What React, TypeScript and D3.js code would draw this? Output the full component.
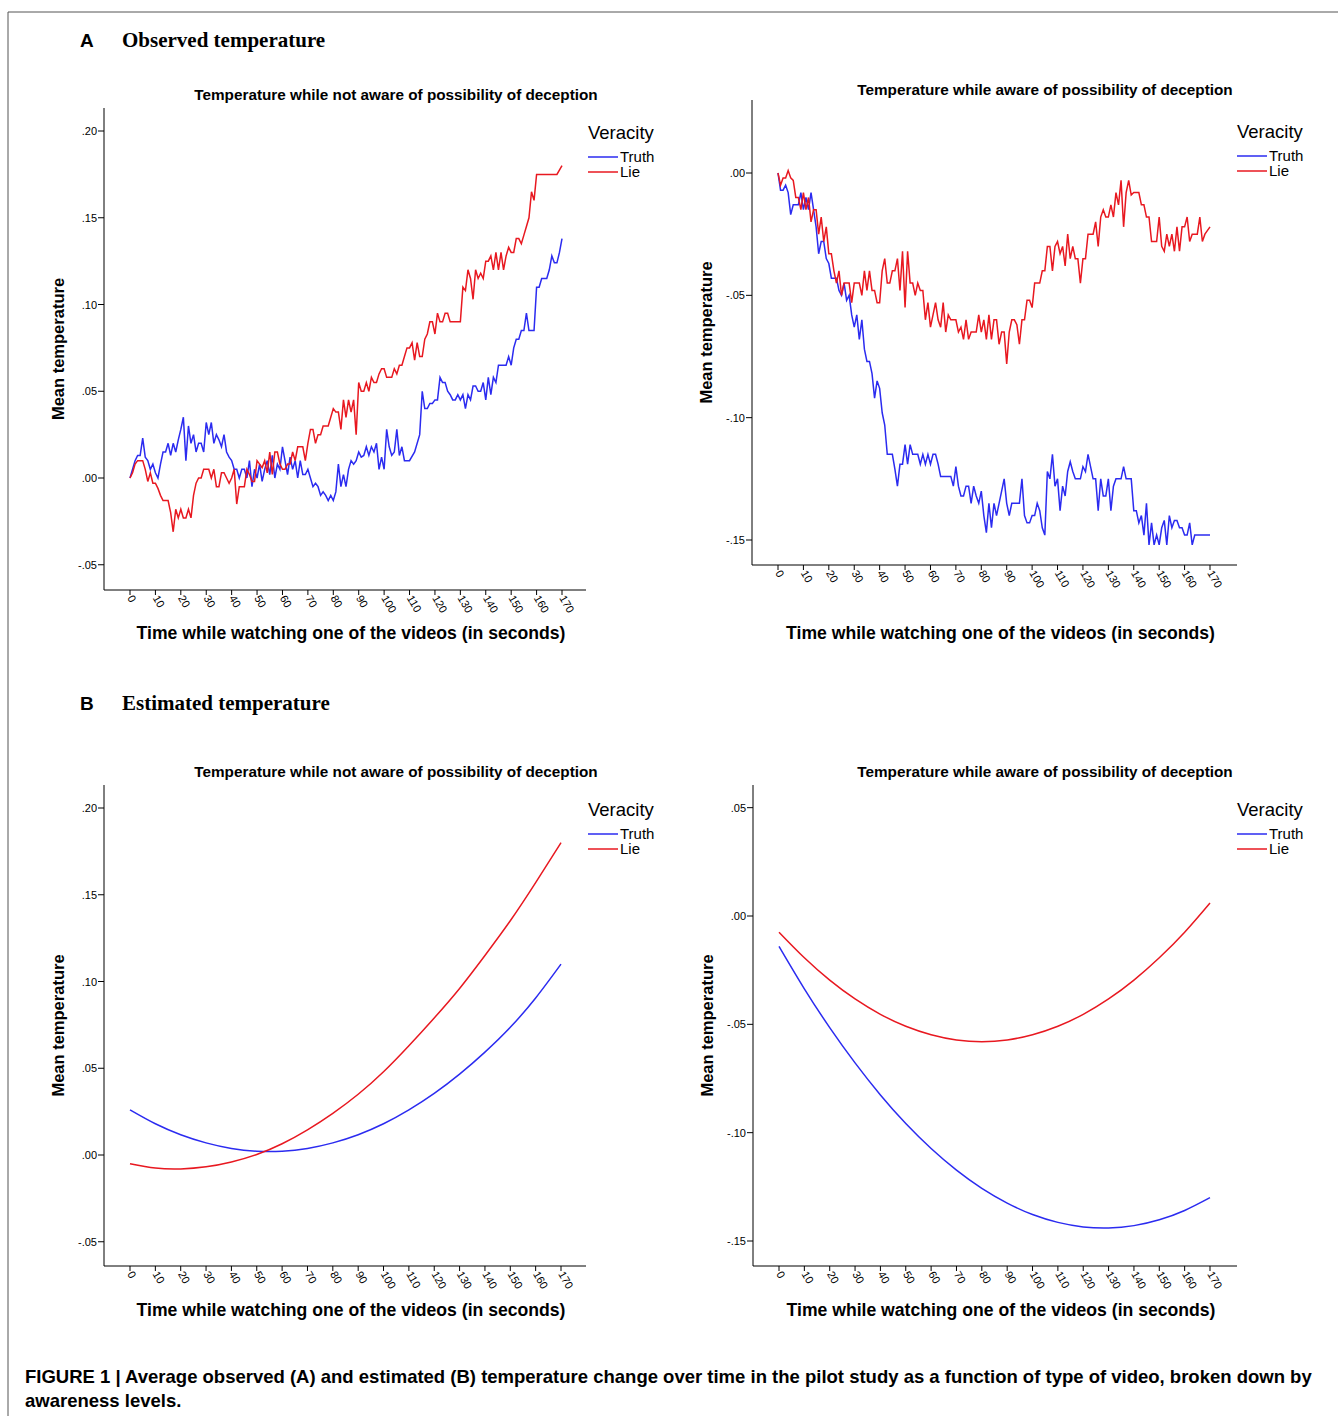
import React from "react";
import * as d3 from "d3";

const xTicks = [0,10,20,30,40,50,60,70,80,90,100,110,120,130,140,150,160,170];
const yTicksAL = [-0.05,0,0.05,0.10,0.15,0.20];
const yTicksAR = [-0.15,-0.10,-0.05,0];
const yTicksBL = [-0.05,0,0.05,0.10,0.15,0.20];
const yTicksBR = [-0.15,-0.10,-0.05,0,0.05];

const truthObsNA: [number,number][] = [[0,0],[2,0.01],[3,0.013],[4,0.013],[5,0.023],[6,0.012],[7,0.01],[8,0.005],[9,0.008],[10,0.003],[11,0],[12,0.008],[13,0.015],[14,0.015],[15,0.02],[16,0.013],[17,0.02],[18,0.015],[19,0.022],[20,0.028],[21,0.035],[22,0.01],[23,0.03],[24,0.02],[25,0.025],[26,0.015],[27,0.02],[28,0.02],[29,0.015],[30,0.032],[31,0.025],[32,0.032],[33,0.02],[34,0.025],[35,0.022],[36,0.018],[37,0.025],[38,0.015],[39,0.012],[40,0.01],[41,0.005],[42,0.005],[43,0],[44,0.005],[45,0.005],[46,0],[47,0.01],[48,-0.005],[49,0.005],[50,0],[51,0.008],[52,-0.002],[53,0.005],[54,0.01],[55,0.002],[56,0.013],[57,0],[58,0.008],[59,0.005],[60,0.018],[61,0.01],[62,0.002],[63,0.012],[64,0.005],[65,0.01],[66,0],[67,0.01],[68,0.002],[69,0.002],[70,0.005],[71,0],[72,-0.005],[73,-0.003],[74,-0.005],[75,-0.01],[76,-0.008],[77,-0.01],[78,-0.013],[79,-0.01],[80,-0.013],[81,-0.008],[82,0.008],[83,-0.005],[84,0.002],[85,-0.005],[86,0.005],[87,0.01],[88,0.008],[89,0.01],[90,0.015],[91,0.012],[92,0.013],[93,0.018],[94,0.013],[95,0.018],[96,0.015],[97,0.02],[98,0.005],[99,0.012],[100,0.005],[101,0.028],[102,0.018],[103,0.013],[104,0.015],[105,0.028],[106,0.013],[107,0.018],[108,0.01],[109,0.01],[110,0.01],[112,0.015],[114,0.025],[115,0.05],[116,0.04],[117,0.04],[118,0.043],[119,0.043],[120,0.045],[121,0.045],[122,0.058],[123,0.055],[124,0.055],[125,0.05],[126,0.048],[127,0.045],[128,0.045],[129,0.048],[130,0.045],[131,0.048],[132,0.04],[133,0.048],[134,0.045],[135,0.053],[136,0.053],[137,0.05],[138,0.05],[139,0.055],[140,0.045],[141,0.058],[142,0.048],[143,0.058],[144,0.055],[145,0.065],[146,0.065],[147,0.065],[148,0.065],[149,0.07],[150,0.065],[151,0.075],[152,0.08],[153,0.08],[154,0.085],[155,0.085],[156,0.095],[157,0.085],[158,0.085],[159,0.085],[160,0.11],[161,0.11],[162,0.115],[163,0.115],[164,0.115],[165,0.12],[166,0.128],[167,0.124],[168,0.124],[169,0.13],[170,0.138]];

const lieObsNA: [number,number][] = [[0,0],[1,0.003],[2,0.008],[3,0.01],[4,0.01],[5,0.01],[6,0.005],[7,-0.002],[8,0.003],[9,-0.003],[10,-0.003],[11,-0.006],[12,-0.01],[13,-0.013],[14,-0.013],[15,-0.013],[16,-0.02],[17,-0.031],[18,-0.018],[19,-0.023],[20,-0.018],[21,-0.023],[22,-0.023],[23,-0.018],[24,-0.023],[25,-0.01],[26,-0.003],[27,0],[28,0],[29,0.005],[30,0.005],[31,0.005],[32,0],[33,0.005],[34,-0.005],[35,-0.005],[36,0.003],[37,0.003],[38,0],[39,-0.003],[40,0],[41,0.005],[42,-0.015],[43,-0.005],[44,-0.005],[45,-0.005],[46,0.005],[47,0.002],[48,-0.002],[49,-0.002],[50,0.01],[51,0.008],[52,0.006],[53,0.01],[54,0.003],[55,0.015],[56,0.002],[57,0.015],[58,0.015],[59,0.008],[60,0.005],[61,0.005],[62,0.008],[63,0.008],[64,0.015],[65,0.01],[66,0.018],[67,0.018],[68,0.018],[69,0.01],[70,0.02],[71,0.028],[72,0.028],[73,0.02],[74,0.025],[75,0.025],[76,0.03],[77,0.03],[78,0.03],[79,0.035],[80,0.04],[81,0.038],[82,0.038],[83,0.028],[84,0.045],[85,0.035],[86,0.045],[87,0.038],[88,0.045],[89,0.025],[90,0.055],[91,0.05],[92,0.05],[93,0.055],[94,0.05],[95,0.058],[96,0.055],[97,0.055],[98,0.06],[99,0.063],[100,0.063],[101,0.058],[102,0.058],[103,0.058],[104,0.063],[105,0.06],[106,0.065],[107,0.065],[108,0.07],[109,0.075],[110,0.075],[111,0.078],[112,0.068],[113,0.078],[114,0.07],[115,0.07],[116,0.08],[117,0.083],[118,0.09],[119,0.09],[120,0.083],[121,0.095],[122,0.09],[123,0.09],[124,0.095],[125,0.095],[126,0.09],[127,0.09],[128,0.09],[129,0.09],[130,0.09],[131,0.11],[132,0.108],[133,0.12],[134,0.115],[135,0.103],[136,0.12],[137,0.115],[138,0.118],[139,0.115],[140,0.125],[141,0.125],[142,0.128],[143,0.12],[144,0.13],[145,0.12],[146,0.13],[147,0.12],[148,0.128],[149,0.133],[150,0.13],[151,0.13],[152,0.138],[153,0.138],[154,0.135],[155,0.14],[156,0.145],[157,0.15],[158,0.165],[159,0.16],[160,0.175],[161,0.175],[163,0.175],[166,0.175],[168,0.175],[170,0.18]];

const truthObsA: [number,number][] = [[0,0],[1,-0.007],[2,-0.007],[3,-0.005],[4,-0.008],[5,-0.017],[6,-0.013],[7,-0.013],[8,-0.013],[9,-0.008],[10,-0.015],[11,-0.01],[12,-0.015],[13,-0.008],[14,-0.015],[15,-0.022],[16,-0.033],[17,-0.028],[18,-0.028],[19,-0.035],[20,-0.037],[21,-0.043],[22,-0.043],[23,-0.043],[24,-0.048],[25,-0.05],[26,-0.045],[27,-0.052],[28,-0.05],[29,-0.058],[30,-0.063],[31,-0.058],[32,-0.068],[33,-0.06],[34,-0.072],[35,-0.077],[36,-0.077],[37,-0.082],[38,-0.092],[39,-0.085],[40,-0.088],[41,-0.098],[42,-0.103],[43,-0.115],[44,-0.115],[45,-0.115],[46,-0.121],[47,-0.128],[48,-0.119],[49,-0.119],[50,-0.111],[51,-0.119],[52,-0.111],[53,-0.115],[54,-0.115],[55,-0.115],[56,-0.119],[57,-0.115],[58,-0.119],[59,-0.115],[60,-0.119],[61,-0.115],[62,-0.115],[63,-0.119],[64,-0.124],[65,-0.124],[66,-0.124],[67,-0.124],[68,-0.124],[69,-0.128],[70,-0.12],[71,-0.128],[72,-0.132],[73,-0.132],[74,-0.128],[75,-0.128],[76,-0.135],[77,-0.128],[78,-0.132],[79,-0.135],[80,-0.13],[81,-0.14],[82,-0.147],[83,-0.135],[84,-0.145],[85,-0.135],[86,-0.14],[87,-0.135],[88,-0.13],[89,-0.125],[90,-0.135],[91,-0.14],[92,-0.135],[93,-0.135],[94,-0.135],[95,-0.135],[96,-0.125],[97,-0.14],[98,-0.143],[99,-0.143],[100,-0.14],[101,-0.14],[102,-0.135],[103,-0.138],[104,-0.145],[105,-0.148],[106,-0.122],[107,-0.125],[108,-0.115],[109,-0.128],[110,-0.125],[111,-0.138],[112,-0.128],[113,-0.132],[114,-0.122],[115,-0.118],[116,-0.122],[117,-0.125],[118,-0.125],[119,-0.125],[120,-0.12],[121,-0.122],[122,-0.115],[123,-0.12],[124,-0.125],[125,-0.125],[126,-0.138],[127,-0.125],[128,-0.132],[129,-0.132],[130,-0.125],[131,-0.138],[132,-0.128],[133,-0.125],[134,-0.125],[135,-0.125],[136,-0.12],[137,-0.125],[138,-0.125],[139,-0.125],[140,-0.138],[141,-0.138],[142,-0.143],[143,-0.14],[144,-0.148],[145,-0.135],[146,-0.152],[147,-0.143],[148,-0.152],[149,-0.148],[150,-0.152],[151,-0.145],[152,-0.142],[153,-0.152],[154,-0.14],[155,-0.145],[156,-0.142],[157,-0.142],[158,-0.145],[159,-0.145],[160,-0.148],[161,-0.148],[162,-0.143],[163,-0.152],[164,-0.148],[166,-0.148],[168,-0.148],[170,-0.148]];

const lieObsA: [number,number][] = [[0,0],[1,-0.005],[2,-0.002],[3,-0.002],[4,0.001],[5,-0.002],[6,-0.003],[7,-0.01],[8,-0.01],[9,-0.015],[10,-0.008],[11,-0.015],[12,-0.01],[13,-0.02],[14,-0.015],[15,-0.015],[16,-0.025],[17,-0.018],[18,-0.028],[19,-0.022],[20,-0.033],[21,-0.033],[22,-0.04],[23,-0.045],[24,-0.04],[25,-0.05],[26,-0.045],[27,-0.045],[28,-0.045],[29,-0.053],[30,-0.045],[31,-0.045],[32,-0.045],[33,-0.05],[34,-0.04],[35,-0.048],[36,-0.04],[37,-0.048],[38,-0.048],[39,-0.053],[40,-0.053],[41,-0.04],[42,-0.035],[43,-0.045],[44,-0.045],[45,-0.04],[46,-0.04],[47,-0.035],[48,-0.048],[49,-0.032],[50,-0.055],[51,-0.032],[52,-0.045],[53,-0.045],[54,-0.05],[55,-0.045],[56,-0.048],[57,-0.048],[58,-0.06],[59,-0.053],[60,-0.063],[61,-0.058],[62,-0.053],[63,-0.06],[64,-0.063],[65,-0.053],[66,-0.065],[67,-0.058],[68,-0.06],[69,-0.06],[70,-0.06],[71,-0.065],[72,-0.063],[73,-0.068],[74,-0.06],[75,-0.068],[76,-0.065],[77,-0.065],[78,-0.065],[79,-0.058],[80,-0.065],[81,-0.06],[82,-0.068],[83,-0.058],[84,-0.068],[85,-0.06],[86,-0.06],[87,-0.07],[88,-0.065],[89,-0.065],[90,-0.078],[91,-0.065],[92,-0.06],[93,-0.06],[94,-0.062],[95,-0.07],[96,-0.06],[97,-0.06],[98,-0.052],[99,-0.052],[100,-0.055],[101,-0.045],[102,-0.045],[103,-0.045],[104,-0.04],[105,-0.04],[106,-0.03],[107,-0.03],[108,-0.04],[109,-0.03],[110,-0.028],[111,-0.033],[112,-0.03],[113,-0.038],[114,-0.025],[115,-0.035],[116,-0.03],[117,-0.035],[118,-0.035],[119,-0.045],[120,-0.035],[121,-0.035],[122,-0.025],[123,-0.025],[124,-0.025],[125,-0.02],[126,-0.03],[127,-0.018],[128,-0.015],[129,-0.018],[130,-0.018],[131,-0.013],[132,-0.018],[133,-0.008],[134,-0.013],[135,-0.003],[136,-0.022],[137,-0.008],[138,-0.003],[139,-0.009],[140,-0.008],[141,-0.008],[142,-0.008],[143,-0.013],[144,-0.013],[145,-0.018],[146,-0.018],[147,-0.028],[148,-0.028],[149,-0.028],[150,-0.018],[151,-0.03],[152,-0.032],[153,-0.025],[154,-0.03],[155,-0.025],[156,-0.032],[157,-0.022],[158,-0.032],[159,-0.022],[160,-0.022],[161,-0.018],[162,-0.028],[163,-0.025],[164,-0.025],[165,-0.025],[166,-0.018],[167,-0.028],[168,-0.025],[170,-0.022]];

const estT = [0,10,20,30,40,50,60,70,80,90,100,110,120,130,140,150,160,170];
const truthEstNA = [0.026,0.018,0.0117,0.007,0.0038,0.0022,0.0022,0.0038,0.007,0.0117,0.018,0.026,0.0355,0.0466,0.0593,0.0736,0.0905,0.11];
const lieEstNA = [-0.005,-0.0075,-0.008,-0.0068,-0.004,0.0003,0.0065,0.0145,0.024,0.035,0.048,0.063,0.079,0.096,0.115,0.135,0.157,0.18];
const truthEstA = [-0.014,-0.0336,-0.0515,-0.0678,-0.0826,-0.0958,-0.1073,-0.1173,-0.1257,-0.1325,-0.1378,-0.1414,-0.1435,-0.144,-0.1429,-0.1402,-0.1359,-0.13];
const lieEstA = [-0.0075,-0.0193,-0.0296,-0.0383,-0.0454,-0.0509,-0.0548,-0.0572,-0.058,-0.0572,-0.0548,-0.0509,-0.0454,-0.0383,-0.0296,-0.0193,-0.0075,0.006];

const BLUE = "#2b2bf0";
const RED = "#e81820";
const F = "Liberation Sans, Arial, sans-serif";

type P = {
  ax: number; top: number; bottom: number; right: number;
  x0: number; x170: number;
  yt: number[]; yPx: [number, number]; yVal: [number, number];
  title: string; titleY: number; titleX: number; xLabelY: number;
  legX: number; legY: number;
  truth: [number, number][]; lie: [number, number][]; smooth?: boolean;
};

const fmt = (v: number) => {
  const s = Math.abs(v).toFixed(2).replace(/^0/, "");
  return (v < -1e-9 ? "-" : "") + s;
};

function Panel(p: P) {
  const x = d3.scaleLinear().domain([0, 170]).range([p.x0, p.x170]);
  const y = d3.scaleLinear().domain(p.yVal).range(p.yPx);
  const line = d3.line<[number, number]>().x(d => x(d[0])).y(d => y(d[1]))
    .curve(p.smooth ? d3.curveNatural : d3.curveLinear);
  return (
    <g fontFamily={F}>
      <text x={p.titleX} y={p.titleY} textAnchor="middle" fontSize={15.3} fontWeight="bold">{p.title}</text>
      <line x1={p.ax} x2={p.ax} y1={p.top} y2={p.bottom} stroke="#000" strokeWidth={1} />
      <line x1={p.ax} x2={p.right} y1={p.bottom} y2={p.bottom} stroke="#000" strokeWidth={1} />
      {p.yt.map(v => (
        <g key={v}>
          <line x1={p.ax - 6} x2={p.ax} y1={y(v)} y2={y(v)} stroke="#000" />
          <text x={p.ax - 7} y={y(v) + 4} textAnchor="end" fontSize={11}>{fmt(v)}</text>
        </g>
      ))}
      {xTicks.map(t => (
        <g key={t}>
          <line x1={x(t)} x2={x(t)} y1={p.bottom} y2={p.bottom + 5} stroke="#000" />
          <text transform={`translate(${x(t) - 3},${p.bottom + 8}) rotate(60)`} fontSize={11}>{t}</text>
        </g>
      ))}
      <text x={(p.ax + p.right) / 2 + 6} y={p.xLabelY} textAnchor="middle" fontSize={17.6} fontWeight="bold">Time while watching one of the videos (in seconds)</text>
      <text transform={`translate(${p.ax - 40},${(p.top + p.bottom) / 2}) rotate(-90)`} textAnchor="middle" fontSize={16.5} fontWeight="bold">Mean temperature</text>
      <path d={line(p.truth) || ""} fill="none" stroke={BLUE} strokeWidth={1.5} />
      <path d={line(p.lie) || ""} fill="none" stroke={RED} strokeWidth={1.5} />
      <text x={p.legX} y={p.legY} fontSize={18.5}>Veracity</text>
      <line x1={p.legX} x2={p.legX + 30} y1={p.legY + 18} y2={p.legY + 18} stroke={BLUE} strokeWidth={1.5} />
      <text x={p.legX + 32} y={p.legY + 23} fontSize={15}>Truth</text>
      <line x1={p.legX} x2={p.legX + 30} y1={p.legY + 33} y2={p.legY + 33} stroke={RED} strokeWidth={1.5} />
      <text x={p.legX + 32} y={p.legY + 38} fontSize={15}>Lie</text>
    </g>
  );
}

const zip = (t: number[], v: number[]) => t.map((tt, i) => [tt, v[i]] as [number, number]);

export default function App() {
  return (
    <svg width={1338} height={1416} style={{ position: "absolute", left: 0, top: 0, background: "#fff" }}>
      <rect width={1338} height={1416} fill="#fff" />
      <line x1={8} x2={1338} y1={12} y2={12} stroke="#555" />
      <line x1={8} x2={8} y1={12} y2={1416} stroke="#555" />
      <text x={80} y={47} fontFamily={F} fontSize={19} fontWeight="bold">A</text>
      <text x={122} y={47} fontFamily="Liberation Serif, Times New Roman, serif" fontSize={21} fontWeight="bold">Observed temperature</text>
      <text x={80} y={710} fontFamily={F} fontSize={19} fontWeight="bold">B</text>
      <text x={122} y={710} fontFamily="Liberation Serif, Times New Roman, serif" fontSize={21} fontWeight="bold">Estimated temperature</text>
      <Panel ax={104} top={108} bottom={590} right={586} x0={130} x170={562} yt={yTicksAL} yPx={[478, 131]} yVal={[0, 0.2]}
        title="Temperature while not aware of possibility of deception" titleX={396} titleY={100} xLabelY={639}
        legX={588} legY={139} truth={truthObsNA} lie={lieObsNA} />
      <Panel ax={752} top={100} bottom={565} right={1237} x0={778} x170={1210} yt={yTicksAR} yPx={[173, 540]} yVal={[0, -0.15]}
        title="Temperature while aware of possibility of deception" titleX={1045} titleY={95} xLabelY={639}
        legX={1237} legY={138} truth={truthObsA} lie={lieObsA} />
      <Panel ax={104} top={785} bottom={1266} right={586} x0={130} x170={561} yt={yTicksBL} yPx={[1155, 808]} yVal={[0, 0.2]}
        title="Temperature while not aware of possibility of deception" titleX={396} titleY={777} xLabelY={1316}
        legX={588} legY={816} truth={zip(estT, truthEstNA)} lie={zip(estT, lieEstNA)} smooth />
      <Panel ax={753} top={785} bottom={1266} right={1237} x0={779} x170={1210} yt={yTicksBR} yPx={[916, 1241]} yVal={[0, -0.15]}
        title="Temperature while aware of possibility of deception" titleX={1045} titleY={777} xLabelY={1316}
        legX={1237} legY={816} truth={zip(estT, truthEstA)} lie={zip(estT, lieEstA)} smooth />
      <text x={25} y={1383} fontFamily={F} fontSize={18.5} fontWeight="bold">FIGURE 1 | Average observed (A) and estimated (B) temperature change over time in the pilot study as a function of type of video, broken down by</text>
      <text x={25} y={1407} fontFamily={F} fontSize={18.5} fontWeight="bold">awareness levels.</text>
    </svg>
  );
}
